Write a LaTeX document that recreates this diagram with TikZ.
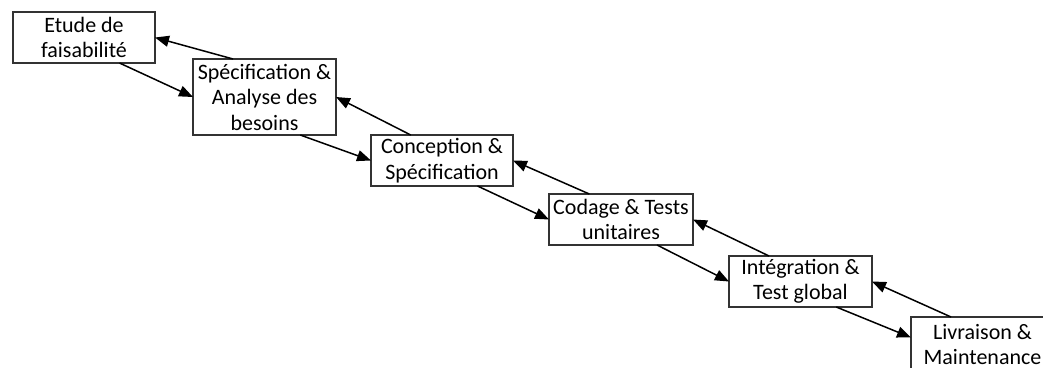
\documentclass[tikz,border=0pt]{standalone}
\usepackage{fontspec}
\setmainfont{Carlito}
\usetikzlibrary{arrows.meta,positioning,calc}

\begin{document}
\begin{tikzpicture}[x=1pt, y=1pt, node distance=36pt,
    phase/.style={rectangle, draw=black!80, line width=1.1pt, fill=white, minimum width=143pt, minimum height=51pt, inner sep=1pt, outer sep=0pt, align=center, font=\fontsize{22}{25.5}\selectfont},
    arrow/.style={-{Triangle[length=14pt,width=11pt]}, line width=1.5pt}]

    \useasboundingbox (0,0) rectangle (1043,-367);
    \clip (0,0) rectangle (1043,-367);

    \node[phase, anchor=north west, minimum width=142pt] (feas) at (13,-12) {Etude de\\faisabilité};
    \node[phase, minimum height=76pt, below right=-4pt and 38pt of feas] (spec) {Spécification \&\\Analyse des\\besoins};
    \node[phase, minimum width=142pt, below right=0pt and 35pt of spec] (concep) {Conception \&\\Spécification};
    \node[phase, minimum width=144pt, below right=8pt and 36pt of concep] (codage) {Codage \& Tests\\unitaires};
    \node[phase, below right=11pt and 36pt of codage] (integ) {Intégration \&\\Test global};
    \node[phase, minimum height=55pt, below right=10pt and 39pt of integ] (livr) {Livraison \&\\Maintenance};

    % descente
    \draw[arrow] ($(feas.south west)!0.75!(feas.south east)$) -- (spec.west);
    \draw[arrow] ($(spec.south west)!0.75!(spec.south east)$) -- (concep.west);
    \draw[arrow] ($(concep.south west)!0.75!(concep.south east)$) -- (codage.west);
    \draw[arrow] ($(codage.south west)!0.75!(codage.south east)$) -- (integ.west);
    \draw[arrow] ($(integ.south west)!0.75!(integ.south east)$) -- ($(livr.west)+(0,7pt)$);

    % retour
    \draw[arrow] ($(spec.north west)!0.28!(spec.north east)$) -- (feas.east);
    \draw[arrow] ($(concep.north west)!0.28!(concep.north east)$) -- (spec.east);
    \draw[arrow] ($(codage.north west)!0.28!(codage.north east)$) -- (concep.east);
    \draw[arrow] ($(integ.north west)!0.28!(integ.north east)$) -- (codage.east);
    \draw[arrow] ($(livr.north west)!0.28!(livr.north east)$) -- (integ.east);
\end{tikzpicture}
\end{document}
